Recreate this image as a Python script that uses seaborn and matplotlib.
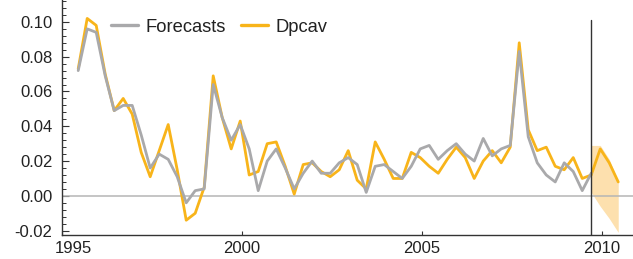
#!/usr/bin/env python3
"""
Dpcav vs forecasts, quarterly, with the out-of-sample band after the cut.
"""

import numpy as np
import pandas as pd
import matplotlib
matplotlib.use("Agg")
import matplotlib.pyplot as plt
import matplotlib.transforms as mtransforms
from matplotlib.ticker import MultipleLocator, FormatStrFormatter
import seaborn as sns

# --- data (quarterly from mid-1995) ---
dpcav = [0.073, 0.102, 0.098, 0.070, 0.049, 0.056, 0.047, 0.025, 0.011, 0.026,
         0.041, 0.015, -0.014, -0.010, 0.005, 0.069, 0.045, 0.027, 0.043, 0.012,
         0.014, 0.030, 0.031, 0.017, 0.001, 0.018, 0.019, 0.014, 0.011, 0.015,
         0.026, 0.009, 0.004, 0.031, 0.021, 0.010, 0.010, 0.025, 0.022, 0.017,
         0.013, 0.021, 0.028, 0.022, 0.010, 0.020, 0.026, 0.019, 0.028, 0.088,
         0.038, 0.026, 0.028, 0.017, 0.015, 0.022, 0.010, 0.012, 0.027, 0.019,
         0.008]
forecasts = [0.072, 0.096, 0.094, 0.069, 0.049, 0.052, 0.052, 0.035, 0.016, 0.024,
             0.021, 0.011, -0.004, 0.003, 0.004, 0.064, 0.045, 0.032, 0.041, 0.027,
             0.003, 0.020, 0.027, 0.016, 0.004, 0.013, 0.020, 0.013, 0.013, 0.019,
             0.022, 0.018, 0.002, 0.017, 0.018, 0.014, 0.010, 0.017, 0.027, 0.029,
             0.021, 0.026, 0.030, 0.024, 0.020, 0.033, 0.023, 0.027, 0.029, 0.083,
             0.034, 0.019, 0.012, 0.008, 0.019, 0.014, 0.003, 0.013]
band_upper = [0.029, 0.029, 0.021, 0.008]
band_lower = [0.002, -0.006, -0.013, -0.021]
band_start = 57          # quarter index where the band begins
cutoff = 2009.68         # vertical line
year_ticks = [1995, 2000, 2005, 2010]

dates = 1995.45 + 0.25 * np.arange(len(dpcav))
df = pd.concat([
    pd.DataFrame({'date': dates[:len(forecasts)], 'value': forecasts, 'serie': 'Forecasts'}),
    pd.DataFrame({'date': dates, 'value': dpcav, 'serie': 'Dpcav'}),
])

# --- style ---
sns.set_theme(style="white")
plt.rcParams['font.family'] = ['Liberation Sans', 'DejaVu Sans']
plt.rcParams['axes.unicode_minus'] = False

ORANGE = '#F8B41A'
GREY = '#A9A9AB'
BAND = '#FDE0AE'

fig = plt.figure(figsize=(6.33, 2.59), dpi=100)
ax = fig.add_axes([62 / 633, 24 / 259, 571 / 633, 235 / 259])

bd = dates[band_start:band_start + len(band_upper)]
ax.fill_between(bd, band_lower, band_upper, color=BAND, lw=0, zorder=1)
ax.axhline(0, color='#B5B5B5', lw=1.1, zorder=1)

sns.lineplot(data=df, x='date', y='value', hue='serie',
             hue_order=['Dpcav', 'Forecasts'],
             palette={'Dpcav': ORANGE, 'Forecasts': GREY},
             linewidth=2.0, ax=ax, legend=False, zorder=3)
# grey on top of orange
ax.lines[-1].set_zorder(4)

ax.axvline(cutoff, ymax=(0.101 + 0.0225) / (0.1126 + 0.0225), color='#333333', lw=1.0, zorder=5)

ax.set_xlim(1995, 2010.86)
ax.set_ylim(-0.0225, 0.1126)

ax.set_xticks(year_ticks)
ax.set_xticklabels([str(y) for y in year_ticks])
ax.yaxis.set_major_locator(MultipleLocator(0.02))
ax.yaxis.set_minor_locator(MultipleLocator(0.004))
ax.yaxis.set_major_formatter(FormatStrFormatter('%.2f'))

ax.tick_params(axis='y', which='major', direction='in', length=5, width=0.8,
               color='#333333', labelsize=12, labelcolor='#222222', pad=7, left=True)
ax.tick_params(axis='y', which='minor', direction='in', length=3, width=0.7,
               color='#333333', left=True)
ax.tick_params(axis='x', which='major', direction='in', length=3, width=0.8,
               color='#333333', labelsize=12, labelcolor='#222222', pad=4, bottom=True)

# first year label sits a bit right of its tick
lab = ax.get_xticklabels()[0]
lab.set_transform(lab.get_transform() + mtransforms.ScaledTranslation(11 / 100, 0, fig.dpi_scale_trans))

for s in ['top', 'right']:
    ax.spines[s].set_visible(False)
for s in ['left', 'bottom']:
    ax.spines[s].set_color('#333333')
    ax.spines[s].set_linewidth(1.0)

ax.set_xlabel('')
ax.set_ylabel('')

handles = [plt.Line2D([], [], color=GREY, lw=2.4), plt.Line2D([], [], color=ORANGE, lw=2.4)]
ax.legend(handles, ['Forecasts', 'Dpcav'], loc='center', bbox_to_anchor=(0.275, 0.885),
          ncol=2, frameon=False, fontsize=13.2, handlelength=1.5, handletextpad=0.4,
          columnspacing=0.8, labelcolor='#222222')

fig.savefig('out.png', dpi=100)
